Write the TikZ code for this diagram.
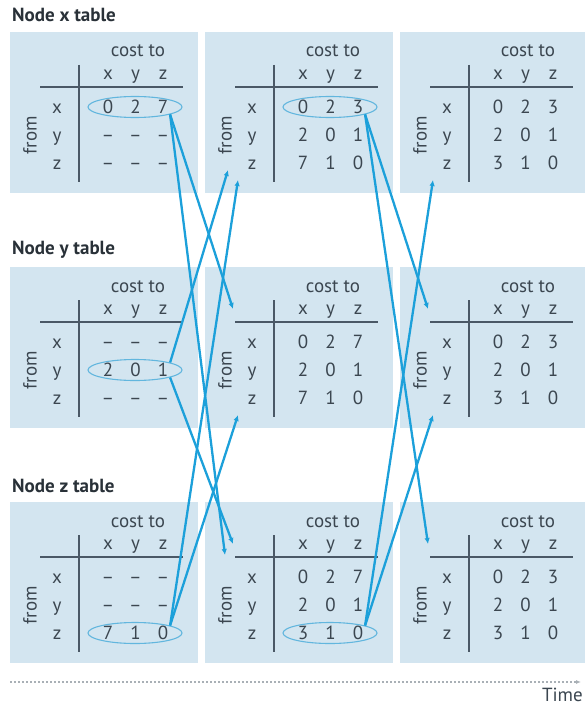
\documentclass[tikz,border=0pt]{standalone}
\usepackage{fontspec}
\setmainfont{PT Sans}
\usepackage{tikz}
\usetikzlibrary{
  arrows.meta,
  calc,
  positioning,
  shapes.geometric
}
\definecolor{ink}{HTML}{3B4650}
\definecolor{slate}{HTML}{4A5866}
\definecolor{panelblue}{HTML}{D3E5F0}
\definecolor{arrowblue}{HTML}{1CA0DA}
\definecolor{ringblue}{HTML}{62B6DE}
\definecolor{dots}{HTML}{A9B0B6}
\newcommand{\nodist}{\textendash}
\tikzset{
  panel/.style={
    fill=panelblue,
    anchor=north west,
    minimum height=161pt,
    inner sep=0pt,
    outer sep=0pt
  },
  entry/.style={
    text=ink,
    anchor=base,
    inner sep=0pt,
    font=\fontsize{19}{21}\selectfont
  },
  title/.style={
    anchor=west,
    text=ink!70!black,
    inner sep=0pt,
    font=\bfseries\fontsize{19}{21}\selectfont
  },
  tablerule/.style={
    draw=slate,
    line width=1.6pt
  },
  ring/.style={
    ellipse,
    draw=ringblue,
    line width=1.1pt,
    minimum width=94pt,
    minimum height=21pt,
    inner sep=0pt
  },
  update/.style={
    -{Latex[length=6pt,width=5.5pt]},
    line width=2.3pt,
    draw=arrowblue
  },
  timeline/.style={
    -{Latex[length=5pt,width=4pt]},
    draw=dots,
    line width=1.2pt,
    dash pattern=on 2pt off 2pt
  }
}
% [width] name, corner, three rows of costs
\newcommand{\dvtable}[6][188]{%
  \begin{scope}[shift={(#3)}]
    \node[panel, minimum width=#1pt] (#2) at (0,0) {};
    \node[entry] (#2-cost) at (128,25) {cost to};
    \foreach \c [count=\i] in {x,y,z} {
      \node[entry] (#2-col\i) at ({70.5+27.5*\i},47.5) {\c};
      \node[entry] (#2-row\i) at (47,{53.5+28*\i}) {\c};
      \coordinate (#2-r\i) at (125,{47+28*\i});
    }
    \node[entry, anchor=center, rotate=90] (#2-from) at (20,103) {from};
    \draw[tablerule] (30,55) -- (173,55);
    \draw[tablerule] (69,33) -- (69,150);
    \foreach \v [count=\i] in {#4}
      \node[entry] at ({70.5+27.5*\i},81.5) {\v};
    \foreach \v [count=\i] in {#5}
      \node[entry] at ({70.5+27.5*\i},109.5) {\v};
    \foreach \v [count=\i] in {#6}
      \node[entry] at ({70.5+27.5*\i},137.5) {\v};
    \coordinate (#2-hi1) at (20,53);
    \coordinate (#2-hi2) at (28,42);
    \coordinate (#2-lo1) at (23,138);
    \coordinate (#2-lo2) at (33,148);
  \end{scope}}

\begin{document}
\begin{tikzpicture}[x=1pt, y=-1pt]
  \useasboundingbox (0,0) rectangle (585,706);

  \dvtable{x1}{10,32}{0,2,7}{\nodist,\nodist,\nodist}{\nodist,\nodist,\nodist}
  \dvtable{y1}{10,267}{\nodist,\nodist,\nodist}{2,0,1}{\nodist,\nodist,\nodist}
  \dvtable{z1}{10,502}{\nodist,\nodist,\nodist}{\nodist,\nodist,\nodist}{7,1,0}
  \dvtable{x2}{205,32}{0,2,3}{2,0,1}{7,1,0}
  \dvtable{y2}{205,267}{0,2,7}{2,0,1}{7,1,0}
  \dvtable{z2}{205,502}{0,2,7}{2,0,1}{3,1,0}
  \dvtable[185]{x3}{400,32}{0,2,3}{2,0,1}{3,1,0}
  \dvtable[185]{y3}{400,267}{0,2,3}{2,0,1}{3,1,0}
  \dvtable[185]{z3}{400,502}{0,2,3}{2,0,1}{3,1,0}

  \node[title] (xtitle) at ($(x1.north west)+(2,-17)$) {Node x table};
  \node[title] (ytitle) at ($(y1.north west)+(2,-17)$) {Node y table};
  \node[title] (ztitle) at ($(z1.north west)+(2,-16)$) {Node z table};

  \node[ring] (x1c) at (x1-r1) {};
  \node[ring] (y1c) at (y1-r2) {};
  \node[ring] (z1c) at (z1-r3) {};
  \node[ring] (x2c) at (x2-r1) {};
  \node[ring] (z2c) at (z2-r3) {};

  \draw[update] (x1c.-12) -- (y2-hi2);
  \draw[update] (x1c.-12) -- (z2-hi1);
  \draw[update] (y1c.12) -- (x2-lo1);
  \draw[update] (y1c.-12) -- (z2-hi2);
  \draw[update] (z1c.12) -- (x2-lo2);
  \draw[update] (z1c.12) -- (y2-lo2);
  \draw[update] (x2c.-12) -- (y3-hi2);
  \draw[update] (x2c.-12) -- (z3-hi2);
  \draw[update] (z2c.12) -- (x3-lo2);
  \draw[update] (z2c.12) -- (y3-lo2);

  \coordinate (t0) at (10,682);
  \coordinate (t1) at (581,682);
  \draw[timeline] (t0) -- (t1);
  \node[entry, anchor=base east] (time) at (583,701) {Time};
\end{tikzpicture}
\end{document}
